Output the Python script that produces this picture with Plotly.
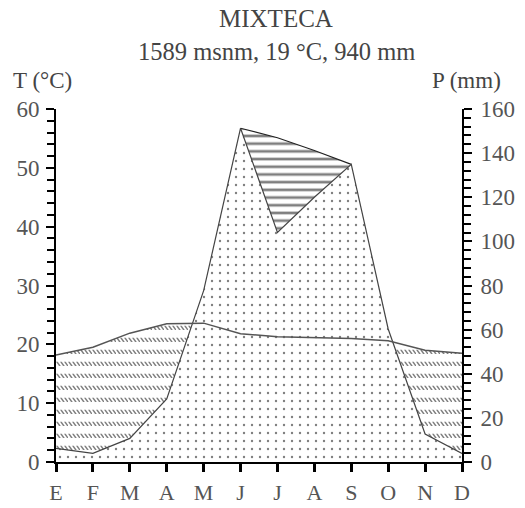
import plotly.graph_objects as go

# Monthly climate normals for the Mixteca station
months = ["E", "F", "M", "A", "M", "J", "J", "A", "S", "O", "N", "D"]
temp_c = [18.2, 19.5, 21.9, 23.5, 23.6, 21.8, 21.3, 21.1, 21.0, 20.6, 19.0, 18.5]
precip_mm = [6.2, 3.9, 10.7, 28.6, 77.7, 151.3, 104.1, 120.0, 134.9, 60.3, 12.7, 3.9]

# Upper precipitation envelope over the rainy-season months (J..S)
upper_idx = [5, 6, 7, 8]
upper_mm = [151.3, 147.0, 141.2, 134.9]

title_main = "MIXTECA"
title_sub = "1589 msnm, 19 °C, 940 mm"
t_label = "T (°C)"
p_label = "P (mm)"

T_MAX, P_MAX = 60, 160
MM_PER_C = P_MAX / T_MAX

FONT = "Liberation Serif"
TXT = "#555555"

x = list(range(len(months)))
t_as_mm = [t * MM_PER_C for t in temp_c]


def with_crossings(xs, a, b):
    """Insert the points where curves a and b intersect."""
    ox, oa, ob = [xs[0]], [a[0]], [b[0]]
    for i in range(1, len(xs)):
        d0 = a[i - 1] - b[i - 1]
        d1 = a[i] - b[i]
        if d0 * d1 < 0:
            f = d0 / (d0 - d1)
            xc = xs[i - 1] + f * (xs[i] - xs[i - 1])
            ac = a[i - 1] + f * (a[i] - a[i - 1])
            ox.append(xc)
            oa.append(ac)
            ob.append(ac)
        ox.append(xs[i])
        oa.append(a[i])
        ob.append(b[i])
    return ox, oa, ob


cx, ct, cp = with_crossings(x, t_as_mm, precip_mm)
dry_top = [max(t, p) for t, p in zip(ct, cp)]


def dash_rows_path(tile=12, step=4):
    """Tile with one row of short back-slash dashes near its top."""
    parts = []
    for x0 in range(0, tile, step):
        parts.append(
            f"M{x0},0.8 L{x0 + 1.8},0.8 L{x0 + 4.8},5 L{x0 + 3.0},5 Z"
        )
    return " ".join(parts)


def dry_pattern():
    try:
        return go.scatter.Fillpattern(path=dash_rows_path(), size=12,
                                      fgcolor="#000000",
                                      bgcolor="rgba(0,0,0,0)")
    except ValueError:
        return go.scatter.Fillpattern(shape="\\", size=5, solidity=0.3,
                                      fgcolor="#111111",
                                      bgcolor="rgba(0,0,0,0)")


fig = go.Figure()

# Humid area under the precipitation curve (dots)
fig.add_trace(go.Scatter(
    x=x, y=precip_mm, mode="lines", line=dict(width=0),
    fill="tozeroy", fillcolor="rgba(0,0,0,0)",
    fillpattern=dict(shape=".", size=8, solidity=0.07,
                     fgcolor="#000000", bgcolor="rgba(0,0,0,0)"),
    hoverinfo="skip", showlegend=False, yaxis="y"))

# Dry season: between precipitation and temperature curves
fig.add_trace(go.Scatter(x=cx, y=cp, mode="lines", line=dict(width=0),
                         hoverinfo="skip", showlegend=False, yaxis="y"))
fig.add_trace(go.Scatter(
    x=cx, y=dry_top, mode="lines", line=dict(width=0),
    fill="tonexty", fillcolor="rgba(0,0,0,0)",
    fillpattern=dry_pattern(),
    hoverinfo="skip", showlegend=False, yaxis="y"))

# Horizontal hatching between the envelope and the precipitation curve
fig.add_trace(go.Scatter(x=upper_idx, y=[precip_mm[i] for i in upper_idx],
                         mode="lines", line=dict(width=0),
                         hoverinfo="skip", showlegend=False, yaxis="y"))
fig.add_trace(go.Scatter(
    x=upper_idx, y=upper_mm, mode="lines",
    line=dict(color="#222222", width=1.1),
    fill="tonexty", fillcolor="rgba(0,0,0,0)",
    fillpattern=dict(shape="-", size=7.7, solidity=0.35,
                     fgcolor="#000000", bgcolor="rgba(0,0,0,0)"),
    hoverinfo="skip", showlegend=False, yaxis="y"))

# Precipitation curve
fig.add_trace(go.Scatter(x=x, y=precip_mm, mode="lines",
                         line=dict(color="#444444", width=1.2),
                         showlegend=False, yaxis="y"))

# Temperature curve on the left axis
fig.add_trace(go.Scatter(x=x, y=temp_c, mode="lines",
                         line=dict(color="#555555", width=1.5),
                         showlegend=False, yaxis="y2"))

tickfont = dict(family=FONT, size=23, color=TXT)

fig.update_layout(
    width=525, height=508,
    margin=dict(l=56, r=63, t=109, b=46),
    paper_bgcolor="white", plot_bgcolor="white",
    xaxis=dict(
        range=[0, 11], tickmode="array", tickvals=x, ticktext=months,
        showgrid=False, zeroline=False, showline=True, automargin=False,
        linecolor="black", linewidth=2,
        ticks="outside", ticklen=8, tickwidth=3, tickcolor="black",
        tickfont=dict(family=FONT, size=22, color=TXT),
        ticklabelstandoff=2,
    ),
    yaxis=dict(
        side="right", range=[0, P_MAX], dtick=20, automargin=False,
        showgrid=False, zeroline=False, showline=True,
        linecolor="black", linewidth=2,
        ticks="outside", ticklen=8, tickwidth=2, tickcolor="black",
        minor=dict(dtick=4, ticks="outside", ticklen=7, tickwidth=1.5,
                   tickcolor="black", showgrid=False),
        tickfont=tickfont, ticklabelstandoff=4,
    ),
    yaxis2=dict(
        side="left", overlaying="y", range=[0, T_MAX], dtick=10,
        automargin=False,
        showgrid=False, zeroline=False, showline=True,
        linecolor="black", linewidth=2,
        ticks="outside", ticklen=8, tickwidth=2, tickcolor="black",
        minor=dict(dtick=2, ticks="outside", ticklen=7, tickwidth=1.5,
                   tickcolor="black", showgrid=False),
        tickfont=tickfont, ticklabelstandoff=2,
    ),
)

plot_h = 508 - 109 - 46
plot_w = 525 - 56 - 63


def px_x(px):
    return (px - 56) / plot_w


def px_y(py):
    return (508 - 46 - py) / plot_h


annots = [
    (title_main, 276, 19, 25),
    (title_sub, 276, 52, 24.5),
    (t_label, 42, 81, 23),
    (p_label, 466, 80, 23),
]
for text, ax_, ay_, fs in annots:
    fig.add_annotation(text=text, x=px_x(ax_), y=px_y(ay_),
                       xref="paper", yref="paper", showarrow=False,
                       xanchor="center", yanchor="middle",
                       font=dict(family=FONT, size=fs, color="#444444"))

fig.write_html("out.html")
